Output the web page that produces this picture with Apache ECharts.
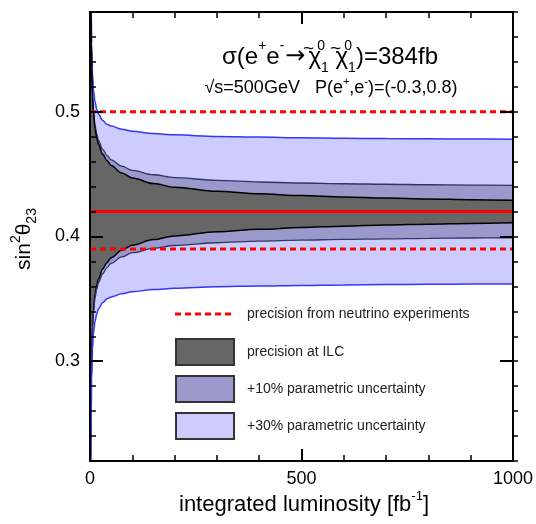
<!DOCTYPE html>
<html>
<head>
<meta charset="utf-8">
<script src="https://cdn.jsdelivr.net/npm/echarts@6/dist/echarts.min.js"></script>
<style>
  html, body { margin: 0; padding: 0; background: #fff; }
  #chart { width: 536px; height: 524px; }
</style>
</head>
<body>
<div id="chart"></div>
<script>
// Integrated luminosity sample points [fb^-1]
var lumi = [1, 2, 3, 4, 6, 8, 12, 16, 20, 30, 40, 50, 75, 100, 150, 200, 300, 400, 500, 600, 700, 800, 900, 1000];

// +30% parametric uncertainty band (outer)
var outerUpper = [0.72, 0.62, 0.58, 0.555, 0.530, 0.518, 0.508, 0.502, 0.498, 0.493, 0.490, 0.4885, 0.486, 0.4843, 0.4825, 0.4815, 0.4802, 0.4797, 0.4792, 0.4788, 0.4785, 0.4783, 0.4781, 0.478];
var outerLower = [0.12, 0.22, 0.26, 0.285, 0.310, 0.322, 0.332, 0.338, 0.342, 0.347, 0.350, 0.3515, 0.354, 0.3557, 0.3575, 0.3585, 0.3598, 0.3603, 0.3608, 0.3612, 0.3615, 0.3617, 0.3619, 0.362];

// +10% parametric uncertainty band
var midUpper = [0.671, 0.591, 0.556, 0.537, 0.514, 0.502, 0.489, 0.482, 0.477, 0.470, 0.465, 0.4615, 0.4564, 0.453, 0.4495, 0.4472, 0.445, 0.4437, 0.4429, 0.4423, 0.4419, 0.4415, 0.4412, 0.441];
var midLower = [0.169, 0.249, 0.284, 0.303, 0.326, 0.338, 0.351, 0.358, 0.363, 0.370, 0.375, 0.3785, 0.3836, 0.387, 0.3905, 0.3928, 0.395, 0.3963, 0.3971, 0.3977, 0.3981, 0.3985, 0.3988, 0.399];

// precision at ILC
var ilcUpper = [0.67, 0.59, 0.555, 0.535, 0.512, 0.500, 0.486, 0.479, 0.474, 0.466, 0.461, 0.457, 0.451, 0.447, 0.4425, 0.4395, 0.4362, 0.4342, 0.4328, 0.4317, 0.4308, 0.4301, 0.4295, 0.429];
var ilcLower = [0.17, 0.25, 0.285, 0.305, 0.328, 0.340, 0.354, 0.361, 0.366, 0.374, 0.379, 0.383, 0.389, 0.393, 0.3975, 0.4005, 0.4038, 0.4058, 0.4072, 0.4083, 0.4092, 0.4099, 0.4105, 0.411];

// neutrino experiments: central value and allowed range
var nuCentral = 0.42;
var nuRange = [0.39, 0.5];
var lumiRange = [0, 1000];

// axis ticks
var yMajorTicks = [0.3, 0.4, 0.5];
var yMin = 0.22, yMax = 0.58;

var legendLabels = [
  'precision from neutrino experiments',
  'precision at ILC',
  '+10% parametric uncertainty',
  '+30% parametric uncertainty'
];

var FONT = 'Liberation Sans, Arial, Helvetica, sans-serif';

function pairs(xs, ys) {
  return xs.map(function (x, i) { return [x, ys[i]]; });
}

function band(name, ys, lineColor, fillColor, width) {
  return {
    name: name,
    type: 'line',
    xAxisIndex: 0, yAxisIndex: 0,
    data: pairs(lumi, ys),
    symbol: 'none',
    smooth: 0.35,
    smoothMonotone: 'x',
    lineStyle: { color: lineColor, width: width },
    areaStyle: { color: fillColor, opacity: 1, origin: 'start' },
    z: 2
  };
}

function hline(name, y, dashed) {
  return {
    name: name,
    type: 'line',
    xAxisIndex: 0, yAxisIndex: 0,
    data: pairs(lumiRange, [y, y]),
    symbol: 'none',
    lineStyle: { color: '#ff0000', width: 3, type: dashed ? [6, 4] : 'solid' },
    z: 5
  };
}

var chart = echarts.init(document.getElementById('chart'), null, { renderer: 'canvas' });

var gridRect = { left: 90, right: 18, top: 12, bottom: 63 };

var axisLine = { show: true, onZero: false, lineStyle: { color: '#000', width: 2 } };
var txt = { fontFamily: FONT, fill: '#000' };
function st(extra) { return Object.assign({}, txt, extra); }

var option = {
  animation: false,
  backgroundColor: '#fff',
  grid: [
    Object.assign({}, gridRect),
    Object.assign({}, gridRect)
  ],
  xAxis: [
    {
      type: 'value', gridIndex: 0, position: 'bottom',
      min: 0, max: 1000, interval: 500,
      axisLine: axisLine,
      axisTick: { show: true, inside: true, length: 12, lineStyle: { color: '#000', width: 2 } },
      minorTick: { show: true, splitNumber: 5, length: 6, lineStyle: { color: '#000', width: 1.5 } },
      axisLabel: { show: true, margin: 9, fontSize: 18, color: '#000', fontFamily: FONT,
        formatter: function (v) { return String(v); } },
      splitLine: { show: false },
      z: 10
    },
    {
      type: 'value', gridIndex: 0, position: 'top',
      min: 0, max: 1000, interval: 500,
      axisLine: axisLine,
      axisTick: { show: true, inside: true, length: 12, lineStyle: { color: '#000', width: 2 } },
      minorTick: { show: true, splitNumber: 5, length: 6, lineStyle: { color: '#000', width: 1.5 } },
      axisLabel: { show: false },
      splitLine: { show: false },
      z: 10
    },
    {
      type: 'value', gridIndex: 1, show: false, min: 0, max: 1000
    }
  ],
  yAxis: [
    {
      type: 'value', gridIndex: 0, position: 'left',
      min: yMin, max: yMax, interval: 0.02,
      axisLine: axisLine,
      axisTick: { show: true, inside: true, length: 13, customValues: yMajorTicks, lineStyle: { color: '#000', width: 2 } },
      axisLabel: { show: true, margin: 10, fontSize: 18, color: '#000', fontFamily: FONT, customValues: yMajorTicks,
        padding: [6, 0, 0, 0],
        formatter: function (v) { return v.toFixed(1); } },
      splitLine: { show: false },
      z: 10
    },
    {
      type: 'value', gridIndex: 0, position: 'right',
      min: yMin, max: yMax, interval: 0.02,
      axisLine: axisLine,
      axisTick: { show: true, inside: true, length: 13, customValues: yMajorTicks, lineStyle: { color: '#000', width: 2 } },
      axisLabel: { show: false },
      splitLine: { show: false },
      z: 10
    },
    {
      type: 'value', gridIndex: 1, position: 'left',
      min: yMin, max: yMax, interval: 0.02,
      axisLine: { show: false },
      axisTick: { show: true, inside: true, length: 6, lineStyle: { color: '#000', width: 1.5 } },
      axisLabel: { show: false },
      splitLine: { show: false },
      z: 10
    },
    {
      type: 'value', gridIndex: 1, position: 'right',
      min: yMin, max: yMax, interval: 0.02,
      axisLine: { show: false },
      axisTick: { show: true, inside: true, length: 6, lineStyle: { color: '#000', width: 1.5 } },
      axisLabel: { show: false },
      splitLine: { show: false },
      z: 10
    }
  ],
  series: [
    band('+30% upper', outerUpper, '#3535ff', '#ccccff', 1.5),
    band('+10% upper', midUpper, '#333366', '#9999cc', 1.3),
    band('ILC upper', ilcUpper, '#000000', '#666666', 1.5),
    band('ILC lower', ilcLower, '#000000', '#9999cc', 1.5),
    band('+10% lower', midLower, '#333366', '#ccccff', 1.3),
    band('+30% lower', outerLower, '#3535ff', '#ffffff', 1.5),
    hline('central', nuCentral, false),
    hline('upper bound', nuRange[1], true),
    hline('lower bound', nuRange[0], true)
  ],
  graphic: [
    // process label
    {
      type: 'text', z: 100,
      style: {
        x: 330, y: 57, align: 'center', verticalAlign: 'middle',
        text: '{m|σ(e}{sup|+}{m|e}{sup|-}{arr|→}{t|~}{m|χ}{sup0|0}{sub|1}{m| }{t|~}{m|χ}{sup0|0}{sub|1}{m|)=384fb}',
        rich: {
          m: st({ fontSize: 24, lineHeight: 36 }),
          arr: st({ fontSize: 24, lineHeight: 36, fontFamily: 'DejaVu Sans', padding: [0, 3, 0, 1] }),
          t: st({ fontSize: 19, lineHeight: 30, verticalAlign: 'top', width: 0 }),
          sup: st({ fontSize: 14, lineHeight: 15, verticalAlign: 'top' }),
          sup0: st({ fontSize: 14, lineHeight: 15, verticalAlign: 'top', width: 0 }),
          sub: st({ fontSize: 14, lineHeight: 15, verticalAlign: 'bottom' })
        }
      }
    },
    {
      type: 'text', z: 100,
      style: {
        x: 331, y: 88, align: 'center', verticalAlign: 'middle',
        text: '{m|√s=500GeV   P(e}{sup|+}{m|,e}{sup|-}{m|)=(-0.3,0.8)}',
        rich: {
          m: st({ fontSize: 18, lineHeight: 24 }),
          sup: st({ fontSize: 11, lineHeight: 11, verticalAlign: 'top' })
        }
      }
    },
    // axis titles
    {
      type: 'text', z: 100,
      x: 24, y: 239, rotation: Math.PI / 2,
      style: {
        x: 0, y: 0, align: 'center', verticalAlign: 'middle',
        text: '{m|sin}{sup|2}{m|θ}{sub|23}',
        rich: {
          m: st({ fontSize: 21, lineHeight: 30 }),
          sup: st({ fontSize: 14, lineHeight: 14, verticalAlign: 'top' }),
          sub: st({ fontSize: 14, lineHeight: 14, verticalAlign: 'bottom' })
        }
      }
    },
    {
      type: 'text', z: 100,
      style: {
        x: 304, y: 505, align: 'center', verticalAlign: 'middle',
        text: '{m|integrated luminosity [fb}{sup|-1}{m|]}',
        rich: {
          m: st({ fontSize: 22, lineHeight: 30 }),
          sup: st({ fontSize: 13, lineHeight: 14, verticalAlign: 'top' })
        }
      }
    },
    // legend
    {
      type: 'line', z: 100,
      shape: { x1: 175, y1: 314, x2: 232, y2: 314 },
      style: { stroke: '#ff0000', lineWidth: 3, lineDash: [6, 4] }
    },
    {
      type: 'rect', z: 100,
      shape: { x: 176, y: 339, width: 58, height: 26 },
      style: { fill: '#666666', stroke: '#333333', lineWidth: 2 }
    },
    {
      type: 'rect', z: 100,
      shape: { x: 176, y: 376, width: 58, height: 26 },
      style: { fill: '#9999cc', stroke: '#333333', lineWidth: 2 }
    },
    {
      type: 'rect', z: 100,
      shape: { x: 176, y: 413, width: 58, height: 26 },
      style: { fill: '#ccccff', stroke: '#333333', lineWidth: 2 }
    },
    {
      type: 'text', z: 100,
      style: { x: 247, y: 314, verticalAlign: 'middle', text: legendLabels[0], fontSize: 14, fontFamily: FONT, fill: '#222' }
    },
    {
      type: 'text', z: 100,
      style: { x: 247, y: 352, verticalAlign: 'middle', text: legendLabels[1], fontSize: 14, fontFamily: FONT, fill: '#222' }
    },
    {
      type: 'text', z: 100,
      style: { x: 247, y: 389, verticalAlign: 'middle', text: legendLabels[2], fontSize: 14, fontFamily: FONT, fill: '#222' }
    },
    {
      type: 'text', z: 100,
      style: { x: 247, y: 426, verticalAlign: 'middle', text: legendLabels[3], fontSize: 14, fontFamily: FONT, fill: '#222' }
    }
  ]
};

chart.setOption(option);
</script>
</body>
</html>
